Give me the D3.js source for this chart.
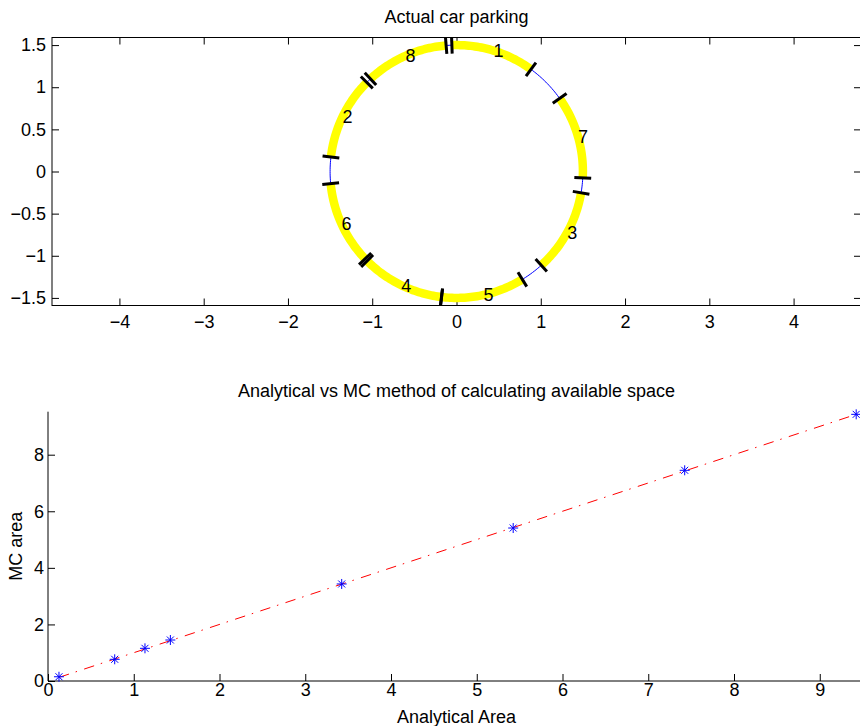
<!DOCTYPE html>
<html>
<head>
<meta charset="utf-8">
<script src="https://cdn.jsdelivr.net/npm/d3@7"></script>
<style>
  html, body { margin: 0; padding: 0; background: #fff; }
  svg { display: block; }
  text { font-family: "Liberation Sans", Arial, Helvetica, sans-serif; fill: #000; }
</style>
</head>
<body>
<svg id="fig" width="860" height="726"></svg>
<script>
// ---- Parking simulation: cars of length 1 on a circular kerb of radius 1.5 ----
const trackRadius = 1.5;
const carLength = 1;
const carNumbers = [1, 2, 3, 4, 5, 6, 7, 8];          // arrival order
const carCentreDeg = [73.0, 154.3, -28.8, 244.1, -77.7, 204.6, 16.2, 113.8]; // car midpoint angle

// ---- Available space after each arrival: analytical vs Monte Carlo ----
const analyticalArea = [0.128, 0.778, 1.131, 1.427, 3.425, 5.425, 7.425, 9.425];
const mcArea         = [0.150, 0.767, 1.155, 1.449, 3.430, 5.408, 7.448, 9.427];

// ---- Axis ticks ----
const topXTicks = [-4, -3, -2, -1, 0, 1, 2, 3, 4];
const topYTicks = [-1.5, -1, -0.5, 0, 0.5, 1, 1.5];
const botXTicks = [0, 1, 2, 3, 4, 5, 6, 7, 8, 9];
const botYTicks = [0, 2, 4, 6, 8];

const fmt = d => String(d).replace("-", "\u2212");
const svg = d3.select("#fig");
const FONT = 18;

// =============== Upper panel ===============
const upper = { left: 52, right: 861, top: 37.5, bottom: 305.5 };
const x1 = d3.scaleLinear().domain([-4.8, 4.8]).range([upper.left, upper.right]);
const y1 = d3.scaleLinear().domain([-1.59, 1.59]).range([upper.bottom, upper.top]);

svg.append("defs").append("clipPath").attr("id", "clipUpper")
  .append("rect").attr("x", upper.left).attr("y", upper.top)
  .attr("width", upper.right - upper.left).attr("height", upper.bottom - upper.top);

const gUp = svg.append("g");

function styleAxis(g) {
  g.select(".domain").remove();
  g.selectAll(".tick line").attr("stroke", "#000");
  g.selectAll(".tick text").attr("font-size", FONT).attr("font-family", null).attr("fill", "#000");
}

gUp.append("g").attr("transform", `translate(0,${upper.bottom})`)
  .call(d3.axisBottom(x1).tickValues(topXTicks).tickFormat(fmt).tickSize(-7).tickPadding(10))
  .call(styleAxis);
gUp.append("g").attr("transform", `translate(0,${upper.top})`)
  .call(d3.axisTop(x1).tickValues(topXTicks).tickFormat("").tickSize(-7))
  .call(styleAxis);
gUp.append("g").attr("transform", `translate(${upper.left},0)`)
  .call(d3.axisLeft(y1).tickValues(topYTicks).tickFormat(fmt).tickSize(-7).tickPadding(6))
  .call(styleAxis);
gUp.append("g").attr("transform", `translate(${upper.right},0)`)
  .call(d3.axisRight(y1).tickValues(topYTicks).tickFormat("").tickSize(-7))
  .call(styleAxis);

gUp.append("rect")
  .attr("x", upper.left).attr("y", upper.top)
  .attr("width", upper.right - upper.left).attr("height", upper.bottom - upper.top)
  .attr("fill", "none").attr("stroke", "#000").attr("stroke-width", 1);

const plotUp = gUp.append("g").attr("clip-path", "url(#clipUpper)");

// thin kerb circle
const circlePts = d3.range(0, 361, 1).map(a => [trackRadius * Math.cos(a * Math.PI / 180), trackRadius * Math.sin(a * Math.PI / 180)]);
const lineXY = d3.line().x(d => x1(d[0])).y(d => y1(d[1]));
plotUp.append("path").attr("d", lineXY(circlePts))
  .attr("fill", "none").attr("stroke", "#0000ff").attr("stroke-width", 1);

const halfDeg = (carLength / 2 / trackRadius) * 180 / Math.PI;
const cars = carNumbers.map((n, i) => ({
  n, mid: carCentreDeg[i], a0: carCentreDeg[i] - halfDeg, a1: carCentreDeg[i] + halfDeg
}));

// occupied stretches of kerb
plotUp.selectAll("path.car").data(cars).join("path")
  .attr("class", "car")
  .attr("d", c => {
    const pts = d3.range(0, 41).map(k => {
      const a = (c.a0 + (c.a1 - c.a0) * k / 40) * Math.PI / 180;
      return [trackRadius * Math.cos(a), trackRadius * Math.sin(a)];
    });
    return lineXY(pts);
  })
  .attr("fill", "none").attr("stroke", "#ffff00").attr("stroke-width", 8.5);

// bumper marks at each car end
const ends = cars.flatMap(c => [c.a0, c.a1]);
plotUp.selectAll("path.mark").data(ends).join("path")
  .attr("class", "mark")
  .attr("d", a => {
    const r = a * Math.PI / 180;
    return lineXY([[1.4 * Math.cos(r), 1.4 * Math.sin(r)], [1.6 * Math.cos(r), 1.6 * Math.sin(r)]]);
  })
  .attr("stroke", "#000").attr("stroke-width", 3);

// car numbers
plotUp.selectAll("text.carlbl").data(cars).join("text")
  .attr("class", "carlbl")
  .attr("x", c => x1(trackRadius * Math.cos(c.mid * Math.PI / 180)))
  .attr("y", c => y1(trackRadius * Math.sin(c.mid * Math.PI / 180)))
  .attr("dy", "0.35em")
  .attr("font-size", FONT)
  .text(c => c.n);

svg.append("text").attr("x", (upper.left + 861) / 2).attr("y", 23.3)
  .attr("text-anchor", "middle").attr("font-size", FONT).text("Actual car parking");

// =============== Lower panel ===============
const lower = { left: 48, top: 411.7, bottom: 681 };
const lim = 9.52;
const x2 = d3.scaleLinear().domain([0, lim]).range([lower.left, lower.left + lim * 85.75]);
const y2 = d3.scaleLinear().domain([0, lim]).range([lower.bottom, lower.top]);

const gLow = svg.append("g");
gLow.append("g").attr("transform", `translate(0,${lower.bottom})`)
  .call(d3.axisBottom(x2).tickValues(botXTicks).tickFormat(fmt).tickSize(-7).tickPadding(2))
  .call(styleAxis);
gLow.append("g").attr("transform", `translate(${lower.left},0)`)
  .call(d3.axisLeft(y2).tickValues(botYTicks).tickFormat(fmt).tickSize(-7).tickPadding(4))
  .call(styleAxis);

gLow.append("line").attr("x1", lower.left).attr("x2", lower.left)
  .attr("y1", lower.top).attr("y2", lower.bottom).attr("stroke", "#000");
gLow.append("line").attr("x1", lower.left).attr("x2", 870)
  .attr("y1", lower.bottom).attr("y2", lower.bottom).attr("stroke", "#000");

// reference line through the analytical values
const refLine = d3.line().x(d => x2(d)).y(d => y2(d));
gLow.append("path").attr("d", refLine(analyticalArea))
  .attr("fill", "none").attr("stroke", "#ff0000").attr("stroke-width", 1)
  .attr("stroke-dasharray", "10.5,7,1.5,7.5");

// Monte Carlo estimates
const star = "M-5,0H5M0,-5V5M-3.5,-3.5L3.5,3.5M-3.5,3.5L3.5,-3.5";
gLow.selectAll("path.pt").data(analyticalArea.map((a, i) => [a, mcArea[i]])).join("path")
  .attr("class", "pt")
  .attr("transform", d => `translate(${x2(d[0])},${y2(d[1])})`)
  .attr("d", star).attr("fill", "none").attr("stroke", "#0000ff").attr("stroke-width", 1);

svg.append("text").attr("x", 456.5).attr("y", 396.7)
  .attr("text-anchor", "middle").attr("font-size", FONT)
  .text("Analytical vs MC method of calculating available space");
svg.append("text").attr("x", 456.5).attr("y", 723)
  .attr("text-anchor", "middle").attr("font-size", FONT).text("Analytical Area");
svg.append("text").attr("transform", `translate(21.5,${(lower.top + lower.bottom) / 2}) rotate(-90)`)
  .attr("text-anchor", "middle").attr("font-size", FONT).text("MC area");
</script>
</body>
</html>
